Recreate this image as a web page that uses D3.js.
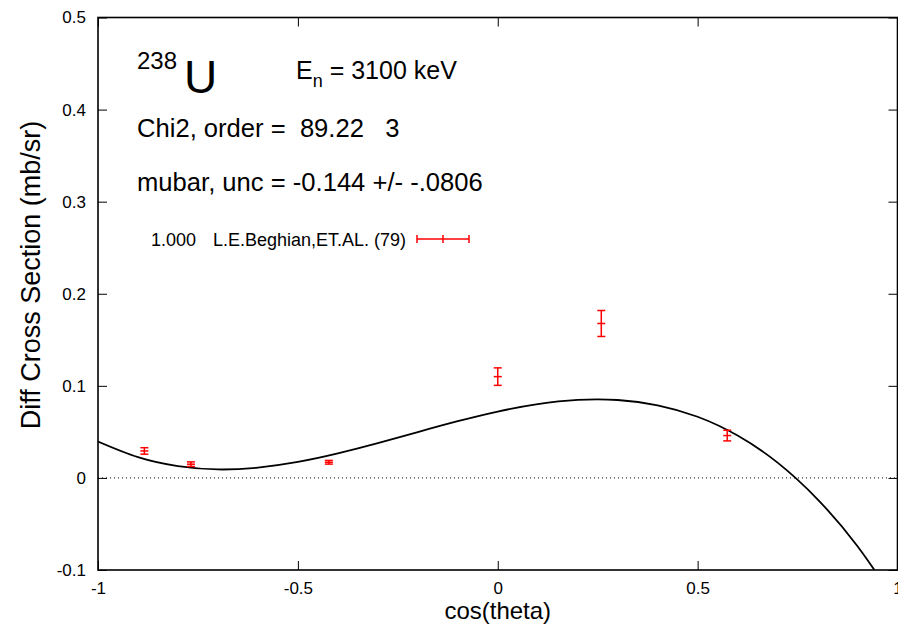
<!DOCTYPE html>
<html>
<head>
<meta charset="utf-8">
<script src="https://cdn.jsdelivr.net/npm/d3@7"></script>
<style>
  html, body { margin: 0; padding: 0; background: #fff; }
  svg { display: block; font-family: "Liberation Sans", Arial, sans-serif; }
  text { white-space: pre; }
</style>
</head>
<body>
<svg id="chart" width="898" height="628"></svg>
<script>
// Measured angular distribution (cos theta, cross section, uncertainty)
const cosTheta = [-0.884, -0.7675, -0.4225, 0.0, 0.259, 0.574];
const xsValues = [0.0293, 0.0149, 0.0170, 0.1100, 0.1677, 0.0460];
const xsErrors = [0.0035, 0.0025, 0.0020, 0.0095, 0.0141, 0.0058];

// Order-3 Legendre fit, sampled every 0.1 in cos theta
const fitCos = [-1.0, -0.9, -0.8, -0.7, -0.6, -0.5, -0.4, -0.3, -0.2, -0.1, 0.0, 0.1, 0.2, 0.3, 0.4, 0.5, 0.6, 0.7, 0.8, 0.9, 1.0];
const fitXs  = [0.0395, 0.0225, 0.0128, 0.0092, 0.0112, 0.0173, 0.0266, 0.0377, 0.0498, 0.0616, 0.0721, 0.0801, 0.0847, 0.0846, 0.0789, 0.0664, 0.0460, 0.0166, -0.0232, -0.0742, -0.1373];

const xTicks = [-1, -0.5, 0, 0.5, 1];
const xTickLabels = ["-1", "-0.5", "0", "0.5", "1"];
const yTicks = [-0.1, 0, 0.1, 0.2, 0.3, 0.4, 0.5];
const yTickLabels = ["-0.1", "0", "0.1", "0.2", "0.3", "0.4", "0.5"];

(function drawChart() {
  const svg = d3.select("#chart");
  const pL = 98, pR = 897.5, pT = 17.5, pB = 570;

  const x = d3.scaleLinear().domain([-1, 1]).range([pL, pR]);
  const y = d3.scaleLinear().domain([-0.1, 0.5]).range([pB, pT]);

  const tickLen = 9;

  // Axes: ticks drawn inward on all four sides
  const axL = d3.axisLeft(y).tickValues(yTicks).tickSize(-tickLen).tickPadding(12)
    .tickFormat((d, i) => yTickLabels[i]);
  const axR = d3.axisRight(y).tickValues(yTicks).tickSize(-tickLen).tickFormat("");
  const axB = d3.axisBottom(x).tickValues(xTicks).tickSize(-tickLen).tickPadding(12)
    .tickFormat((d, i) => xTickLabels[i]);
  const axT = d3.axisTop(x).tickValues(xTicks).tickSize(-tickLen).tickFormat("");

  function styleAxis(g) {
    g.select(".domain").remove();
    g.selectAll(".tick line").attr("stroke", "#000").attr("stroke-width", 1);
    g.selectAll(".tick text").attr("fill", "#000").attr("font-size", 17)
      .attr("font-family", "Liberation Sans, Arial, sans-serif");
  }
  svg.append("g").attr("transform", `translate(${pL},0)`).call(axL).call(styleAxis);
  svg.append("g").attr("transform", `translate(${pR},0)`).call(axR).call(styleAxis);
  svg.append("g").attr("transform", `translate(0,${pB})`).call(axB).call(styleAxis);
  svg.append("g").attr("transform", `translate(0,${pT})`).call(axT).call(styleAxis);

  // Zero reference line (dotted)
  svg.append("line")
    .attr("x1", x(-1)).attr("x2", x(1)).attr("y1", y(0)).attr("y2", y(0))
    .attr("stroke", "#000").attr("stroke-width", 1).attr("stroke-dasharray", "1,3");

  // Clip for the fit curve
  svg.append("clipPath").attr("id", "plotclip")
    .append("rect").attr("x", pL).attr("y", pT).attr("width", pR - pL).attr("height", pB - pT);

  const fitData = fitCos.map((c, i) => ({ c, v: fitXs[i] }));
  svg.append("path")
    .datum(fitData)
    .attr("clip-path", "url(#plotclip)")
    .attr("fill", "none").attr("stroke", "#000").attr("stroke-width", 1.8)
    .attr("d", d3.line().x(d => x(d.c)).y(d => y(d.v)).curve(d3.curveNatural));

  // Experimental points with error bars
  const red = "#ff0000";
  const pts = cosTheta.map((c, i) => ({ c, v: xsValues[i], e: xsErrors[i] }));
  const cap = 4;
  const g = svg.append("g").attr("stroke", red).attr("stroke-width", 1.5);
  pts.forEach(p => {
    const cx = x(p.c), y0 = y(p.v - p.e), y1 = y(p.v + p.e), yc = y(p.v);
    g.append("line").attr("x1", cx).attr("x2", cx).attr("y1", y0).attr("y2", y1);
    g.append("line").attr("x1", cx - cap).attr("x2", cx + cap).attr("y1", y0).attr("y2", y0);
    g.append("line").attr("x1", cx - cap).attr("x2", cx + cap).attr("y1", y1).attr("y2", y1);
    g.append("line").attr("x1", cx - cap).attr("x2", cx + cap).attr("y1", yc).attr("y2", yc);
  });

  // Frame
  svg.append("rect").attr("x", pL).attr("y", pT).attr("width", pR - pL).attr("height", pB - pT)
    .attr("fill", "none").attr("stroke", "#000").attr("stroke-width", 1.6);

  // Axis titles
  svg.append("text").attr("x", x(0)).attr("y", 619).attr("text-anchor", "middle")
    .attr("font-size", 24).text("cos(theta)");
  svg.append("text").attr("transform", `translate(40,275) rotate(-90)`)
    .attr("text-anchor", "middle").attr("font-size", 27).text("Diff Cross Section (mb/sr)");

  // Annotations
  svg.append("text").attr("x", 137).attr("y", 69).attr("font-size", 24).text("238");
  svg.append("text").attr("x", 184).attr("y", 93).attr("font-size", 46).text("U");

  const t2 = svg.append("text").attr("x", 296).attr("y", 79).attr("font-size", 25);
  t2.append("tspan").text("E");
  t2.append("tspan").attr("font-size", 18).attr("dy", 8).text("n");
  t2.append("tspan").attr("dy", -8).text(" = 3100 keV");

  svg.append("text").attr("x", 137).attr("y", 137).attr("font-size", 25.6).text("Chi2, order =  89.22   3");
  svg.append("text").attr("x", 137).attr("y", 191).attr("font-size", 25.6).text("mubar, unc = -0.144 +/- -.0806");

  // Legend
  svg.append("text").attr("x", 196).attr("y", 246).attr("text-anchor", "end").attr("font-size", 18).text("1.000");
  svg.append("text").attr("x", 213).attr("y", 246).attr("font-size", 18).text("L.E.Beghian,ET.AL. (79)");
  const lg = svg.append("g").attr("stroke", red).attr("stroke-width", 1.5);
  const ly = 239, lx0 = 417, lx1 = 469;
  lg.append("line").attr("x1", lx0).attr("x2", lx1).attr("y1", ly).attr("y2", ly);
  lg.append("line").attr("x1", lx0).attr("x2", lx0).attr("y1", ly - 4).attr("y2", ly + 4);
  lg.append("line").attr("x1", lx1).attr("x2", lx1).attr("y1", ly - 4).attr("y2", ly + 4);
  lg.append("line").attr("x1", (lx0 + lx1) / 2).attr("x2", (lx0 + lx1) / 2).attr("y1", ly - 4).attr("y2", ly + 4);
})();
</script>
</body>
</html>
